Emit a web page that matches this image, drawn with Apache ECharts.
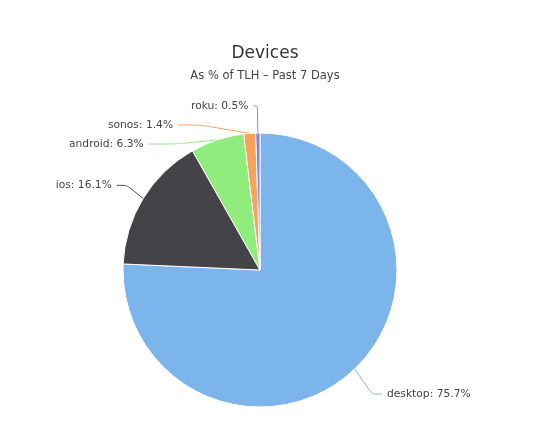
<!DOCTYPE html>
<html>
<head>
<meta charset="utf-8">
<script src="https://cdn.jsdelivr.net/npm/echarts@6/dist/echarts.min.js"></script>
<style>
  html, body { margin: 0; padding: 0; background: #fff; }
  #chart { width: 540px; height: 442px; }
</style>
</head>
<body>
<div id="chart"></div>
<script>
const devices = ['desktop', 'ios', 'android', 'sonos', 'roku']
const shares = [75.7, 16.1, 6.3, 1.4, 0.5]
const colors = ['#7cb5ec', '#434348', '#90ed7d', '#f7a35c', '#8085e9']

// small nudges so the crowded top labels sit where the original put them
const labelShift = {
  desktop: [2, 7],
  ios: [-2, 0],
  android: [-20, 10],
  sonos: [-15, 4],
  roku: [4, -2],
}

const chart = echarts.init(document.getElementById('chart'))
const font = '"DejaVu Sans", sans-serif'

chart.setOption({
  animation: false,
  title: {
    text: 'Devices',
    subtext: 'As % of TLH \u2013 Past 7 Days',
    left: 260,
    top: 40,
    textAlign: 'center',
    itemGap: 8,
    textStyle: { fontFamily: font, fontSize: 17, fontWeight: 'normal', color: '#333' },
    subtextStyle: { fontFamily: font, fontSize: 11.5, color: '#444' },
  },
  series: [{
    type: 'pie',
    center: [260, 270],
    radius: 137,
    startAngle: 90,
    clockwise: true,
    avoidLabelOverlap: true,
    itemStyle: { borderColor: '#fff', borderWidth: 1 },
    label: {
      formatter: '{b}: {c}%',
      fontFamily: font,
      fontSize: 10.7,
      color: '#444',
    },
    labelLine: { length: 25, length2: 8, smooth: 0.2, lineStyle: { width: 1 } },
    labelLayout: params => {
      const [dx, dy] = labelShift[devices[params.dataIndex]] || [0, 0]
      const pts = params.labelLinePoints
      if (!pts) return { dx, dy }
      return {
        dx,
        dy,
        labelLinePoints: [
          pts[0],
          [pts[1][0], pts[1][1] + dy],
          [pts[2][0] + dx, pts[2][1] + dy],
        ],
      }
    },
    emphasis: { disabled: true },
    data: devices.map((name, i) => ({
      name,
      value: shares[i],
      itemStyle: { color: colors[i] },
      labelLine: { lineStyle: { color: colors[i] } },
    })),
  }],
})
</script>
</body>
</html>
